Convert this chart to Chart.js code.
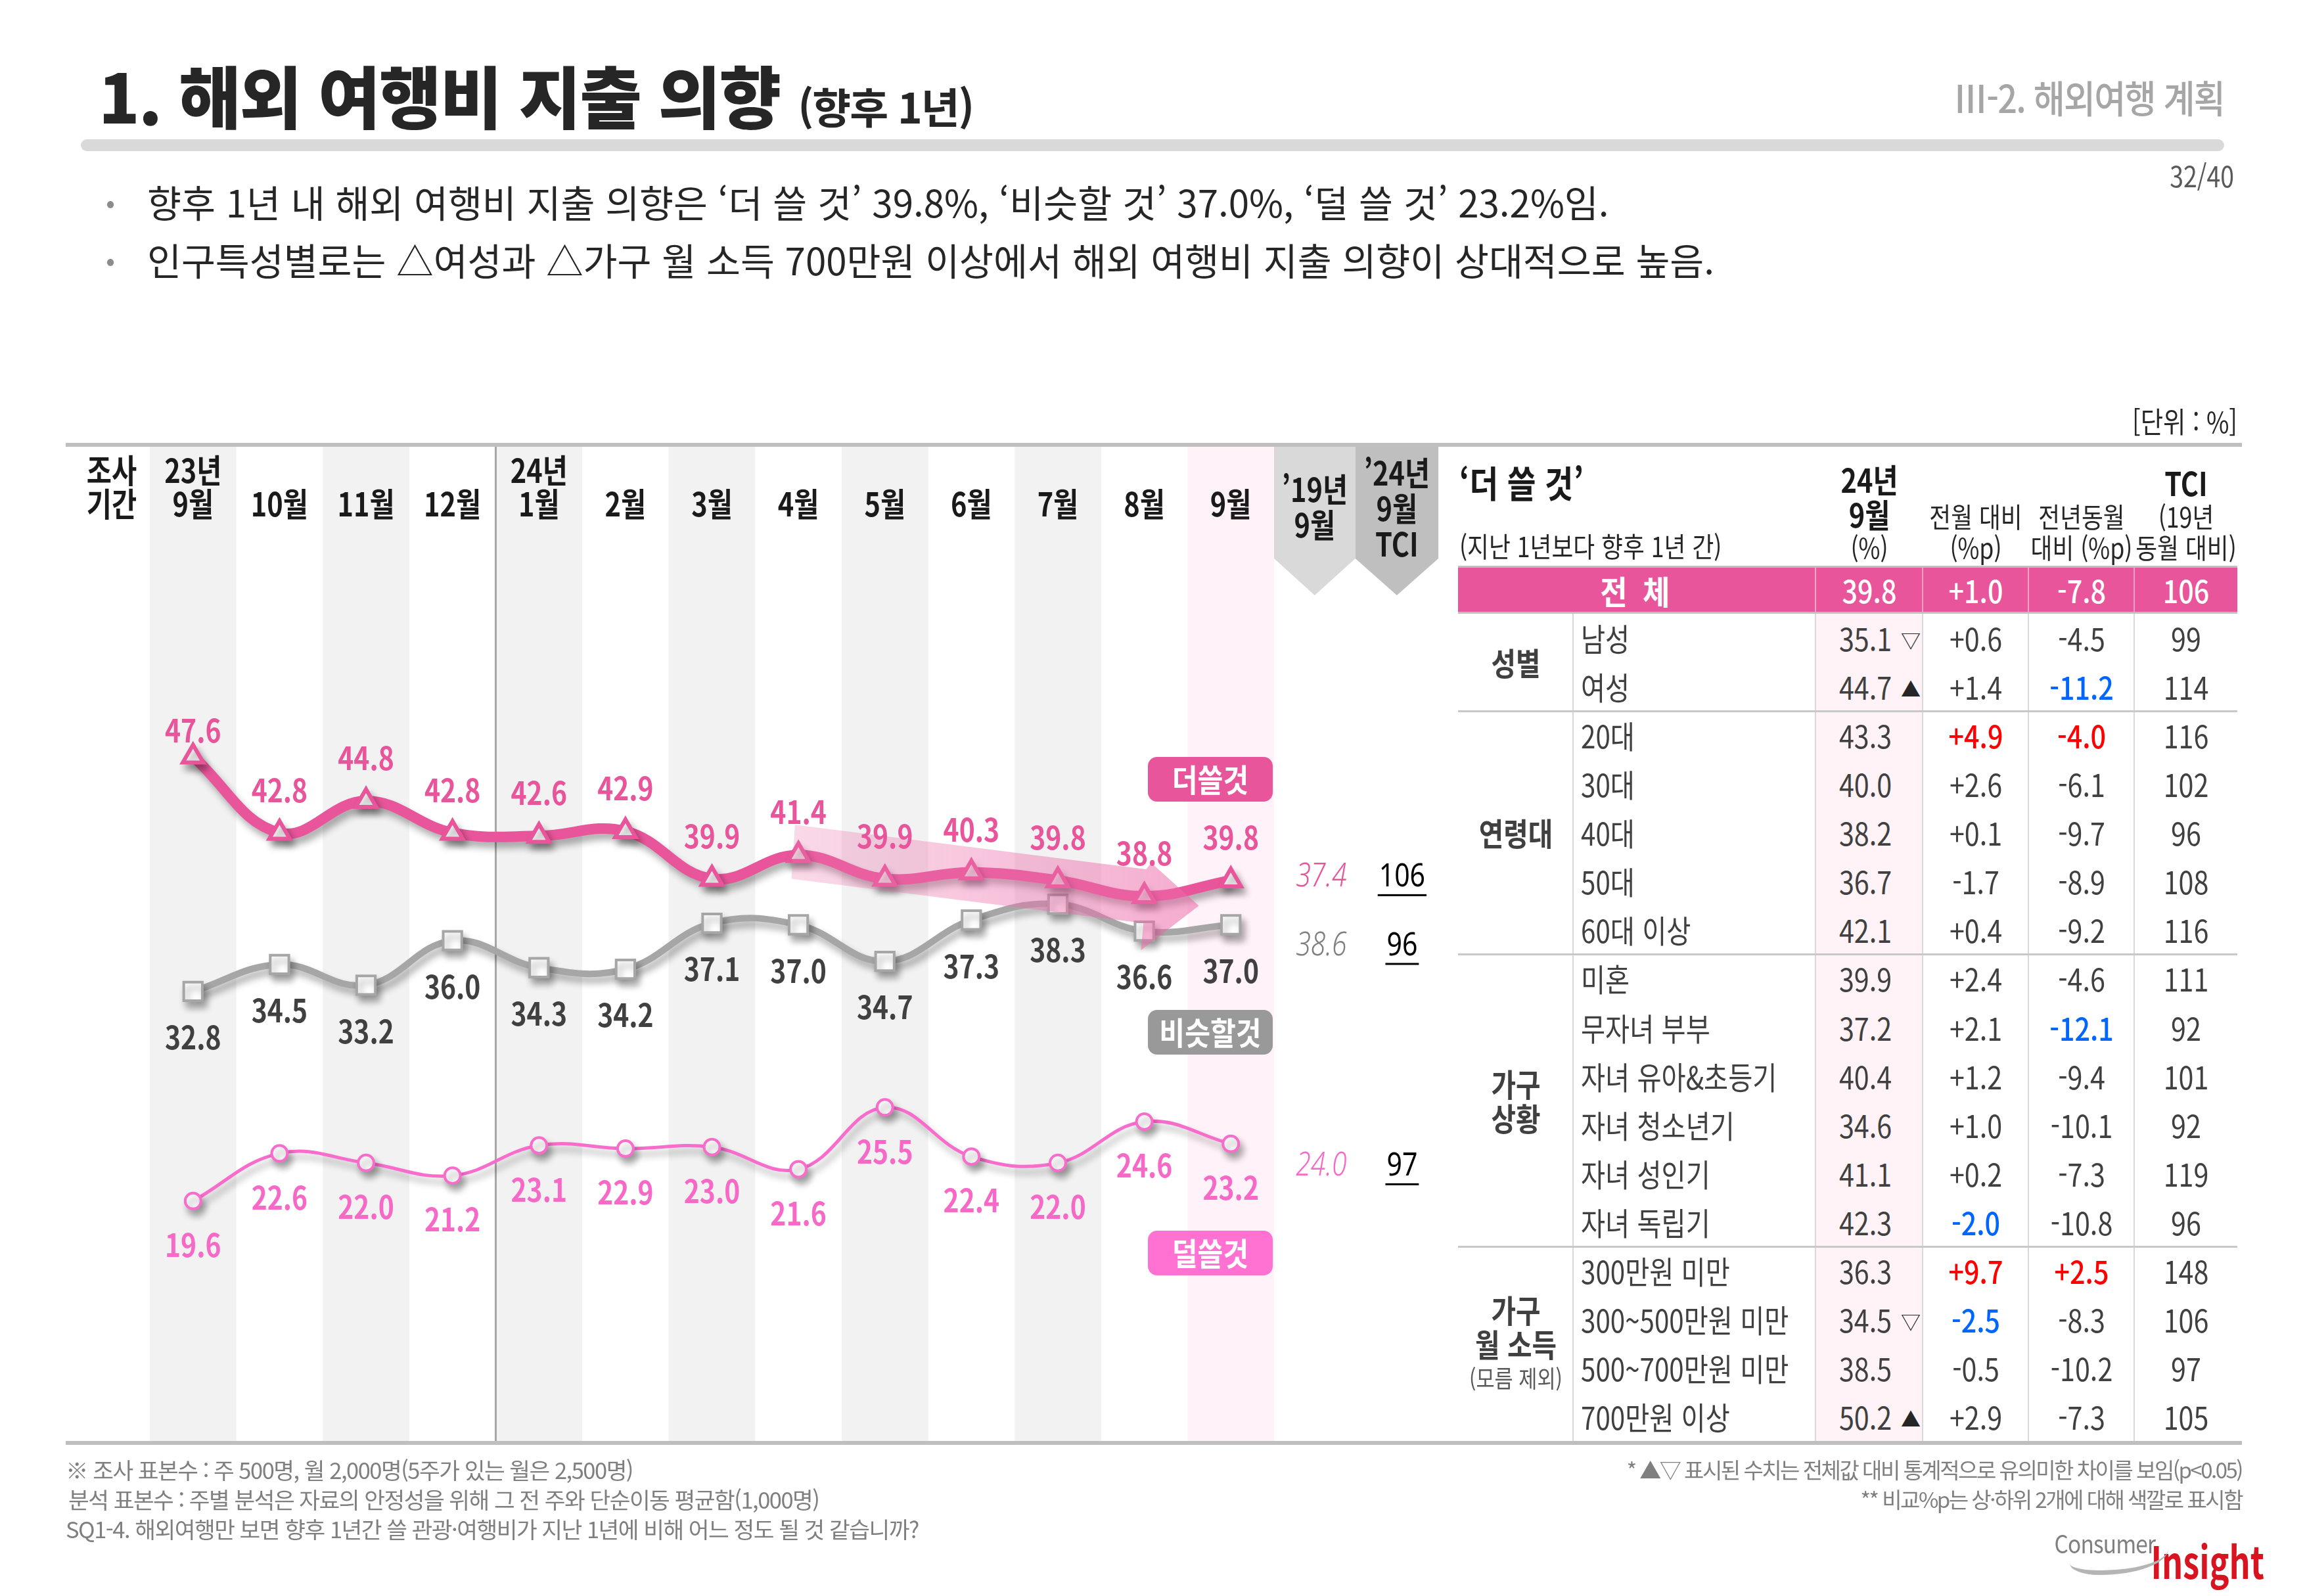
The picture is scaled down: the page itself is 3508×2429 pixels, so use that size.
<!DOCTYPE html>
<html lang="ko">
<head>
<meta charset="utf-8">
<title>해외 여행비 지출 의향</title>
<script src="https://cdn.jsdelivr.net/npm/chart.js@4.4.1/dist/chart.umd.min.js"></script>
<style>
html, body { margin: 0; padding: 0; background: #fff; }
body { position: relative; width: 3508px; height: 2429px; overflow: hidden; font-family: "Noto Sans CJK KR", "Noto Sans", sans-serif; color: #262626; }
#chart { position: absolute; left: 0; top: 0; }
.abs { position: absolute; white-space: nowrap; line-height: 1.2; }
</style>
</head>
<body>
<canvas id="chart" width="3508" height="2429"></canvas>
<div id="page"></div>
<script>
// x axis: survey months
const months = [['23년', '9월'], ['10월'], ['11월'], ['12월'], ['24년', '1월'], ['2월'], ['3월'], ['4월'], ['5월'], ['6월'], ['7월'], ['8월'], ['9월']];
const seriesNames = ['더쓸것', '비슷할것', '덜쓸것'];
const moreSpend = [47.6, 42.8, 44.8, 42.8, 42.6, 42.9, 39.9, 41.4, 39.9, 40.3, 39.8, 38.8, 39.8];
const similarSpend = [32.8, 34.5, 33.2, 36.0, 34.3, 34.2, 37.1, 37.0, 34.7, 37.3, 38.3, 36.6, 37.0];
const lessSpend = [19.6, 22.6, 22.0, 21.2, 23.1, 22.9, 23.0, 21.6, 25.5, 22.4, 22.0, 24.6, 23.2];
// '19년 9월 and '24년 9월 TCI, same order as series
const sep2019 = [37.4, 38.6, 24.0];
const tci2024 = [106, 96, 97];

// right table
const groupNames = [['성별'], ['연령대'], ['가구', '상황'], ['가구', '월 소득', '(모름 제외)']];
const groupSizes = [2, 5, 6, 4];
const rowLabels = ['남성', '여성', '20대', '30대', '40대', '50대', '60대 이상', '미혼', '무자녀 부부', '자녀 유아&초등기', '자녀 청소년기', '자녀 성인기', '자녀 독립기', '300만원 미만', '300~500만원 미만', '500~700만원 미만', '700만원 이상'];
const rowSep24 = [35.1, 44.7, 43.3, 40.0, 38.2, 36.7, 42.1, 39.9, 37.2, 40.4, 34.6, 41.1, 42.3, 36.3, 34.5, 38.5, 50.2];
const rowSig = ['▽', '▲', '', '', '', '', '', '', '', '', '', '', '', '', '▽', '', '▲'];
const rowMoM = [0.6, 1.4, 4.9, 2.6, 0.1, -1.7, 0.4, 2.4, 2.1, 1.2, 1.0, 0.2, -2.0, 9.7, -2.5, -0.5, 2.9];
const rowYoY = [-4.5, -11.2, -4.0, -6.1, -9.7, -8.9, -9.2, -4.6, -12.1, -9.4, -10.1, -7.3, -10.8, 2.5, -8.3, -10.2, -7.3];
const rowTCI = [99, 114, 116, 102, 96, 108, 116, 111, 92, 101, 92, 119, 96, 148, 106, 97, 105];
const totalRow = [39.8, 1.0, -7.8, 106];

const PINK = '#e8559a';
const GRAY = '#a6a6a6';
const LIGHT = '#f86ccc';
const FONT = '"Noto Sans CJK KR", "Noto Sans", sans-serif';

function txt(ctx, s, x, y, font, color, align, sx) {
    ctx.save();
    ctx.font = font;
    ctx.fillStyle = color;
    ctx.textAlign = align || 'center';
    ctx.textBaseline = 'middle';
    ctx.translate(x, y);
    ctx.scale(sx || 1, 1);
    ctx.fillText(s, 0, 0);
    ctx.restore();
}

const shadow = {
    id: 'shadow',
    beforeDatasetDraw(chart) {
        const ctx = chart.ctx;
        ctx.save();
        ctx.shadowColor = 'rgba(0,0,0,0.32)';
        ctx.shadowBlur = 11;
        ctx.shadowOffsetX = 5;
        ctx.shadowOffsetY = 9;
    },
    afterDatasetDraw(chart) {
        chart.ctx.restore();
    }
};

const decor = {
    id: 'decor',
    beforeDatasetsDraw(chart) {
        const ctx = chart.ctx, a = chart.chartArea, x = chart.scales.x;
        const colW = x.getPixelForValue(1) - x.getPixelForValue(0);
        ctx.save();
        // column stripes
        months.forEach((m, i) => {
            const c = x.getPixelForValue(i);
            let fill = null;
            if (i === months.length - 1) fill = '#fff2f8';
            else if (i % 2 === 0) fill = '#f2f2f2';
            if (fill) {
                ctx.fillStyle = fill;
                ctx.fillRect(c - colW / 2, a.top, colW, a.bottom - a.top);
            }
        });
        // 23년 / 24년 divider
        const dx = (x.getPixelForValue(3) + x.getPixelForValue(4)) / 2;
        ctx.fillStyle = '#a6a6a6';
        ctx.fillRect(dx - 1.5, a.top, 3, a.bottom - a.top);

        // '19년 9월 and TCI header tabs
        const w1 = colW * 0.94, w2 = colW * 0.96;
        const tabs = [[a.right, w1, '#d9d9d9'], [a.right + w1, w2, '#bfbfbf']];
        tabs.forEach(t => {
            ctx.fillStyle = t[2];
            ctx.beginPath();
            ctx.moveTo(t[0], a.top);
            ctx.lineTo(t[0] + t[1], a.top);
            ctx.lineTo(t[0] + t[1], a.top + 172);
            ctx.lineTo(t[0] + t[1] / 2, a.top + 228);
            ctx.lineTo(t[0], a.top + 172);
            ctx.closePath();
            ctx.fill();
        });

        // top and bottom rules
        ctx.fillStyle = '#bfbfbf';
        ctx.fillRect(100, a.top - 4, 3312, 6);
        ctx.fillRect(100, a.bottom - 2, 3312, 6);

        // header labels
        const hf = 'bold 50px ' + FONT;
        txt(ctx, '조사', 170, 716, hf, '#1a1a1a', 'center', 0.83);
        txt(ctx, '기간', 170, 767, hf, '#1a1a1a', 'center', 0.83);
        months.forEach((m, i) => {
            const c = x.getPixelForValue(i);
            if (m.length === 2) {
                txt(ctx, m[0], c, 716, hf, '#1a1a1a', 'center', 0.83);
                txt(ctx, m[1], c, 767, hf, '#1a1a1a', 'center', 0.83);
            } else {
                txt(ctx, m[0], c, 767, hf, '#1a1a1a', 'center', 0.83);
            }
        });
        const c19 = a.right + w1 / 2, cT = a.right + w1 + w2 / 2;
        txt(ctx, '\u201919년', c19, 745, hf, '#1a1a1a', 'center', 0.83);
        txt(ctx, '9월', c19, 799, hf, '#1a1a1a', 'center', 0.83);
        txt(ctx, '\u201924년', cT, 720, hf, '#1a1a1a', 'center', 0.83);
        txt(ctx, '9월', cT, 774, hf, '#1a1a1a', 'center', 0.83);
        txt(ctx, 'TCI', cT, 828, hf, '#1a1a1a', 'center', 0.83);
        ctx.restore();
    },
    afterDatasetsDraw(chart) {
        const ctx = chart.ctx, a = chart.chartArea, x = chart.scales.x, y = chart.scales.y;
        const colW = x.getPixelForValue(1) - x.getPixelForValue(0);
        ctx.save();

        // trend arrow over 4월 ~ 8월
        const arrow = [[6.96, 43.3], [11.02, 40.5], [11.08, 40.9], [11.63, 38.2], [10.96, 35.4], [10.99, 37.1], [6.92, 39.9]];
        const g = ctx.createLinearGradient(x.getPixelForValue(6.9), 0, x.getPixelForValue(11.6), 0);
        g.addColorStop(0, 'rgba(236,120,175,0.28)');
        g.addColorStop(1, 'rgba(236,105,168,0.55)');
        ctx.fillStyle = g;
        ctx.beginPath();
        arrow.forEach((p, k) => {
            const px = x.getPixelForValue(p[0]), py = y.getPixelForValue(p[1]);
            if (k === 0) ctx.moveTo(px, py); else ctx.lineTo(px, py);
        });
        ctx.closePath();
        ctx.fill();

        // value labels
        const lf = 'bold 48px ' + FONT;
        const labelSets = [[moreSpend, PINK, -65], [similarSpend, '#404040', 70], [lessSpend, '#f769c6', 67]];
        labelSets.forEach(s => {
            s[0].forEach((v, i) => {
                const dy = (s[0] === moreSpend && i === 0) ? -40 : s[2];
                txt(ctx, v.toFixed(1), x.getPixelForValue(i), y.getPixelForValue(v) + dy, lf, s[1], 'center', 0.85);
            });
        });

        // '19년 9월 and TCI values next to the line ends
        const w1 = colW * 0.94, w2 = colW * 0.96;
        const c19 = a.right + w1 / 2, cT = a.right + w1 + w2 / 2;
        const ends = [moreSpend, similarSpend, lessSpend].map(s => s[s.length - 1]);
        const sideDy = [-5, 32, 34];
        const sideColor = [PINK, '#7f7f7f', '#f769c6'];
        sep2019.forEach((v, k) => {
            const yy = y.getPixelForValue(ends[k]) + sideDy[k];
            txt(ctx, v.toFixed(1), c19 + 10, yy, 'italic 300 50px "Noto Sans", sans-serif', sideColor[k], 'center', 0.82);
            const t = String(tci2024[k]);
            ctx.font = '50px "Noto Sans", sans-serif';
            const tw = ctx.measureText(t).width * 0.82;
            txt(ctx, t, cT + 8, yy, '50px "Noto Sans", sans-serif', '#000', 'center', 0.82);
            ctx.fillStyle = '#000';
            ctx.fillRect(cT + 8 - tw / 2 - 2, yy + 26, tw + 4, 3);
        });

        // series badges
        const badgeY = [1186, 1571, 1907];
        const badgeC = [PINK, '#999999', '#ff72d2'];
        const right = x.getPixelForValue(months.length - 1) + colW / 2 - 2;
        seriesNames.forEach((n, k) => {
            ctx.fillStyle = badgeC[k];
            ctx.beginPath();
            ctx.roundRect(right - 190, badgeY[k] - 34, 190, 68, 14);
            ctx.fill();
            txt(ctx, n, right - 95, badgeY[k] + 1, 'bold 48px ' + FONT, '#fff', 'center', 0.88);
        });
        ctx.restore();
    }
};

new Chart(document.getElementById('chart'), {
    type: 'line',
    data: {
        labels: months,
        datasets: [{
            label: seriesNames[0],
            data: moreSpend,
            borderColor: PINK,
            borderWidth: 16,
            tension: 0.4,
            pointStyle: 'triangle',
            pointRadius: 18,
            pointBackgroundColor: '#fff',
            pointBorderColor: PINK,
            pointBorderWidth: 6
        }, {
            label: seriesNames[1],
            data: similarSpend,
            borderColor: GRAY,
            borderWidth: 10,
            tension: 0.4,
            pointStyle: 'rect',
            pointRadius: 20,
            pointBackgroundColor: '#fff',
            pointBorderColor: GRAY,
            pointBorderWidth: 4
        }, {
            label: seriesNames[2],
            data: lessSpend,
            borderColor: LIGHT,
            borderWidth: 5,
            tension: 0.4,
            pointStyle: 'circle',
            pointRadius: 12,
            pointBackgroundColor: '#fff',
            pointBorderColor: LIGHT,
            pointBorderWidth: 4
        }]
    },
    options: {
        responsive: false,
        animation: false,
        devicePixelRatio: 1,
        events: [],
        layout: { padding: { left: 228, right: 1569, top: 678, bottom: 234 } },
        scales: {
            x: { display: false, offset: true },
            y: { display: false, min: 4.4, max: 67.2 }
        },
        plugins: { legend: { display: false }, tooltip: { enabled: false } }
    },
    plugins: [shadow, decor]
});

// ---- page text and table ----
const page = document.getElementById('page');

function put(text, x, y, css, align, sx) {
    const d = document.createElement('div');
    d.className = 'abs';
    d.textContent = text;
    d.style.left = x + 'px';
    d.style.top = y + 'px';
    Object.assign(d.style, css || {});
    const tx = align === 'left' ? '0' : align === 'right' ? '-100%' : '-50%';
    d.style.transformOrigin = align === 'left' ? 'left center' : align === 'right' ? 'right center' : 'center center';
    d.style.transform = 'translate(' + tx + ', -50%) scaleX(' + (sx || 1) + ')';
    page.appendChild(d);
    return d;
}

function box(x, y, w, h, color, radius) {
    const d = document.createElement('div');
    d.style.position = 'absolute';
    d.style.left = x + 'px';
    d.style.top = y + 'px';
    d.style.width = w + 'px';
    d.style.height = h + 'px';
    d.style.background = color;
    if (radius) d.style.borderRadius = radius + 'px';
    page.appendChild(d);
    return d;
}

// title block
const title = put('1. 해외 여행비 지출 의향 ', 150, 144, { fontSize: '103px', fontWeight: '900', letterSpacing: '-2px', color: '#262626' }, 'left');
const sub = document.createElement('span');
sub.textContent = '(향후 1년)';
sub.style.fontSize = '64px';
sub.style.fontWeight = '700';
title.appendChild(sub);
box(123, 212, 3262, 18, '#d9d9d9', 9);
put('Ⅲ-2. 해외여행 계획', 3385, 148, { fontSize: '58px', fontWeight: '500', color: '#a6a6a6', letterSpacing: '-2px' }, 'right', 0.9);
put('32/40', 3400, 266, { fontSize: '44px', color: '#595959' }, 'right', 0.85);

const last = moreSpend.length - 1;
const bullets = [
    '향후 1년 내 해외 여행비 지출 의향은 ‘더 쓸 것’ ' + moreSpend[last].toFixed(1) + '%, ‘비슷할 것’ ' + similarSpend[last].toFixed(1) + '%, ‘덜 쓸 것’ ' + lessSpend[last].toFixed(1) + '%임.',
    '인구특성별로는 △여성과 △가구 월 소득 700만원 이상에서 해외 여행비 지출 의향이 상대적으로 높음.'
];
bullets.forEach((b, i) => {
    const cy = 306 + i * 88;
    put('•', 168, cy, { fontSize: '40px', color: '#8c8c8c' }, 'center');
    put(b, 224, cy, { fontSize: '57px', fontWeight: '400', color: '#262626' }, 'left', 0.99);
});

put('[단위 : %]', 3405, 640, { fontSize: '44px', color: '#262626' }, 'right', 0.85);

// table header
const colEdges = [2219, 2394, 2763, 2926, 3087, 3248, 3405];
const colMid = k => (colEdges[k] + colEdges[k + 1]) / 2;
const hb = { fontSize: '50px', fontWeight: '700', color: '#1a1a1a' };
const hr = { fontSize: '42px', color: '#262626' };
put('‘더 쓸 것’', 2221, 733, { fontSize: '56px', fontWeight: '700', color: '#1a1a1a' }, 'left', 0.85);
put('(지난 1년보다 향후 1년 간)', 2221, 830, hr, 'left', 0.85);
put('24년', colMid(2), 728, hb, 'center', 0.83);
put('9월', colMid(2), 781, hb, 'center', 0.83);
put('(%)', colMid(2), 832, hr, 'center', 0.85);
put('전월 대비', colMid(3), 785, hr, 'center', 0.85);
put('(%p)', colMid(3), 832, hr, 'center', 0.85);
put('전년동월', colMid(4), 785, hr, 'center', 0.85);
put('대비 (%p)', colMid(4), 832, hr, 'center', 0.85);
put('TCI', colMid(5), 733, hb, 'center', 0.83);
put('(19년', colMid(5), 785, hr, 'center', 0.85);
put('동월 대비)', colMid(5), 832, hr, 'center', 0.85);

// total row
const tableW = colEdges[6] - colEdges[0];
box(colEdges[0], 861, tableW, 3, '#bfbfbf');
box(colEdges[0], 864, tableW, 67, PINK);
box(colEdges[0], 931, tableW, 3, '#bfbfbf');
for (let k = 2; k <= 5; k++) box(colEdges[k] - 1, 864, 2, 67, 'rgba(255,255,255,0.45)');
put('전 체', (colEdges[0] + colEdges[2]) / 2, 898, { fontSize: '50px', fontWeight: '700', color: '#fff', letterSpacing: '6px' }, 'center', 0.9);

function signed(v) {
    return (v > 0 ? '+' : '') + v.toFixed(1);
}
const tw = { fontSize: '48px', fontWeight: '500', color: '#fff' };
put(totalRow[0].toFixed(1), colMid(2), 898, tw, 'center', 0.86);
put(signed(totalRow[1]), colMid(3), 898, tw, 'center', 0.86);
put(signed(totalRow[2]), colMid(4), 898, tw, 'center', 0.86);
put(String(totalRow[3]), colMid(5), 898, tw, 'center', 0.86);

// body
const bodyTop = 934, bodyBottom = 2193;
const rowH = (bodyBottom - bodyTop) / rowLabels.length;
box(colEdges[2], bodyTop, colEdges[3] - colEdges[2], bodyBottom - bodyTop, '#fff3f8');
for (let k = 1; k <= 5; k++) box(colEdges[k] - 1, bodyTop, 2, bodyBottom - bodyTop, '#d9d9d9');

// top two red, bottom two blue
function rankColors(arr) {
    const s = arr.slice().sort((p, q) => q - p);
    const hi = s[1], lo = s[s.length - 2];
    return arr.map(v => v >= hi ? '#ff0000' : v <= lo ? '#0066ff' : '#404040');
}
const momColor = rankColors(rowMoM);
const yoyColor = rankColors(rowYoY);

let start = 0;
groupSizes.forEach((n, g) => {
    const gc = bodyTop + (start + n / 2) * rowH;
    const lines = groupNames[g];
    lines.forEach((t, j) => {
        const yy = gc + (j - (lines.length - 1) / 2) * 52;
        const small = t.charAt(0) === '(';
        put(t, colMid(0), yy, small ? { fontSize: '36px', color: '#595959' } : { fontSize: '48px', fontWeight: '700', color: '#404040' }, 'center', 0.85);
    });
    start += n;
    if (g < groupSizes.length - 1) box(colEdges[0], bodyTop + start * rowH - 1, tableW, 3, '#c8c8c8');
});

const body = { fontSize: '48px', color: '#404040' };
rowLabels.forEach((lab, i) => {
    const cy = bodyTop + (i + 0.5) * rowH;
    put(lab, colEdges[1] + 12, cy, body, 'left', 0.84);
    put(rowSep24[i].toFixed(1), colMid(2) - 6, cy, body, 'center', 0.86);
    if (rowSig[i]) put(rowSig[i], colEdges[3] - 18, cy + 2, { fontSize: '30px', color: '#262626' }, 'center');
    const cm = momColor[i] !== '#404040', cyc = yoyColor[i] !== '#404040';
    put(signed(rowMoM[i]), colMid(3), cy, Object.assign({}, body, { color: momColor[i], fontWeight: cm ? '500' : '400' }), 'center', 0.86);
    put(signed(rowYoY[i]), colMid(4), cy, Object.assign({}, body, { color: yoyColor[i], fontWeight: cyc ? '500' : '400' }), 'center', 0.86);
    put(String(rowTCI[i]), colMid(5), cy, body, 'center', 0.86);
});

// footer notes
const fl = { fontSize: '34.5px', color: '#7f7f7f', letterSpacing: '-1.5px' };
put('※ 조사 표본수 : 주 500명, 월 2,000명(5주가 있는 월은 2,500명)', 100, 2237, fl, 'left');
put(' 분석 표본수 : 주별 분석은 자료의 안정성을 위해 그 전 주와 단순이동 평균함(1,000명)', 104, 2282, fl, 'left');
put('SQ1-4. 해외여행만 보면 향후 1년간 쓸 관광·여행비가 지난 1년에 비해 어느 정도 될 것 같습니까?', 100, 2327, fl, 'left');
const fr = { fontSize: '33px', color: '#7f7f7f', letterSpacing: '-2.5px' };
put('* ▲▽ 표시된 수치는 전체값 대비 통계적으로 유의미한 차이를 보임(p<0.05)', 3412, 2237, fr, 'right');
put('** 비교%p는 상·하위 2개에 대해 색깔로 표시함', 3412, 2282, fr, 'right');

// logo
put('Consumer', 3280, 2348, { fontSize: '38px', color: '#7f7f7f', letterSpacing: '-1px' }, 'right', 0.88);
put('Insight', 3446, 2374, { fontSize: '68px', fontWeight: '700', color: '#d7141f' }, 'right', 0.74);
const sw = box(3150, 2340, 150, 50, 'transparent');
sw.style.borderBottom = '7px solid #b5b5b5';
sw.style.borderRadius = '0 0 70% 30%';
</script>
</body>
</html>
